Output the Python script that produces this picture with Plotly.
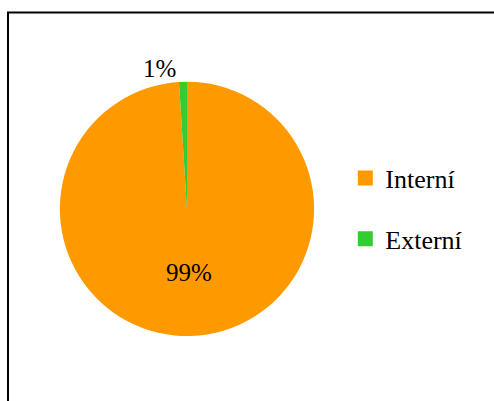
import plotly.graph_objects as go

labels = ["Interní", "Externí"]
values = [99, 1]
colors = ["#FF9900", "#33CC33"]

FONT = "Liberation Serif, Times New Roman, serif"

fig = go.Figure()
fig.add_trace(go.Pie(
    labels=labels, values=values, sort=False, direction="clockwise", rotation=0,
    marker=dict(colors=colors, line=dict(width=0)),
    texttemplate="%{percent:.0%}", textposition=["inside", "outside"],
    insidetextorientation="horizontal",
    textfont=dict(family=FONT, size=25, color="black"),
    showlegend=False, hole=0,
    domain=dict(x=[0.121, 0.636], y=[0.162, 0.796]),
))
for lab, col in zip(labels, colors):
    fig.add_trace(go.Scatter(
        x=[None], y=[None], mode="markers", name=lab, legendgroup=lab,
        marker=dict(symbol="square", size=15, color=col),
    ))

fig.update_layout(
    width=494, height=401, margin=dict(l=0, r=0, t=0, b=0),
    paper_bgcolor="white", plot_bgcolor="white",
    xaxis=dict(visible=False), yaxis=dict(visible=False),
    font=dict(family=FONT, size=26, color="black"),
    legend=dict(x=0.699, y=0.48, xanchor="left", yanchor="middle",
                tracegroupgap=24, itemwidth=30, font=dict(family=FONT, size=26),
                bgcolor="rgba(0,0,0,0)"),
    shapes=[dict(type="rect", xref="paper", yref="paper", x0=0.0162, x1=1.2,
                 y0=-0.2, y1=0.969, line=dict(color="black", width=2))],
)
fig.write_html("out.html")
